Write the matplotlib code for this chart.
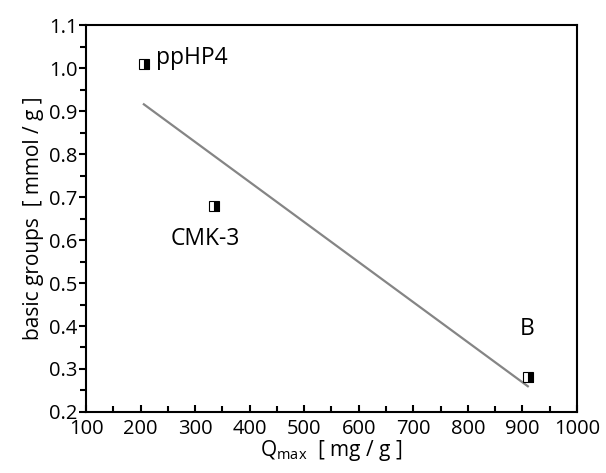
import matplotlib
matplotlib.use("Agg")
import matplotlib.pyplot as plt
from matplotlib.ticker import MultipleLocator
import numpy as np

# data
samples = ["ppHP4", "CMK-3", "B"]
qmax = [206, 335, 910]          # mg/g
basic = [1.01, 0.68, 0.281]     # mmol/g

plt.rcParams["font.family"] = ["Open Sans", "DejaVu Sans"]
plt.rcParams["mathtext.fontset"] = "custom"
plt.rcParams["mathtext.rm"] = "Open Sans"

fig = plt.figure(figsize=(6.06, 4.73), dpi=100)
ax = fig.add_axes([0.142, 0.129, 0.81, 0.818])

# linear fit through the three points
k, b = np.polyfit(qmax, basic, 1)
xx = np.array([min(qmax), max(qmax)])
ax.plot(xx, k * xx + b, color="#858585", lw=1.6, zorder=2)

ax.plot(qmax, basic, ls="none", marker="s", ms=7, fillstyle="right",
        markerfacecolor="black", markerfacecoloralt="white",
        markeredgecolor="black", markeredgewidth=0.8, zorder=3)

# labels next to the points
ax.text(228, 1.023, samples[0], fontsize=16.5, ha="left", va="center")
ax.text(318, 0.602, samples[1], fontsize=16.5, ha="center", va="center")
ax.text(908, 0.393, samples[2], fontsize=16.5, ha="center", va="center")

ax.set_xlim(100, 1000)
ax.set_ylim(0.2, 1.1)
ax.xaxis.set_major_locator(MultipleLocator(100))
ax.xaxis.set_minor_locator(MultipleLocator(50))
ax.yaxis.set_major_locator(MultipleLocator(0.1))
ax.yaxis.set_minor_locator(MultipleLocator(0.05))
ax.yaxis.set_major_formatter(matplotlib.ticker.FormatStrFormatter("%.1f"))

ax.tick_params(axis="x", which="both", direction="in", width=1.5, labelsize=14.5, pad=5)
ax.tick_params(axis="x", which="major", length=5)
ax.tick_params(axis="x", which="minor", length=4)
ax.tick_params(axis="y", which="both", direction="out", width=1.5, labelsize=14.5, pad=1)
ax.tick_params(axis="y", which="major", length=5)
ax.tick_params(axis="y", which="minor", length=4)
for s in ax.spines.values():
    s.set_linewidth(1.5)

ax.set_xlabel(r"Q$_{\mathregular{max}}$  [ mg / g ]", fontsize=15, labelpad=-1)
ax.set_ylabel("basic groups  [ mmol / g ]", fontsize=15, labelpad=4)

fig.savefig("out.png", dpi=100)
